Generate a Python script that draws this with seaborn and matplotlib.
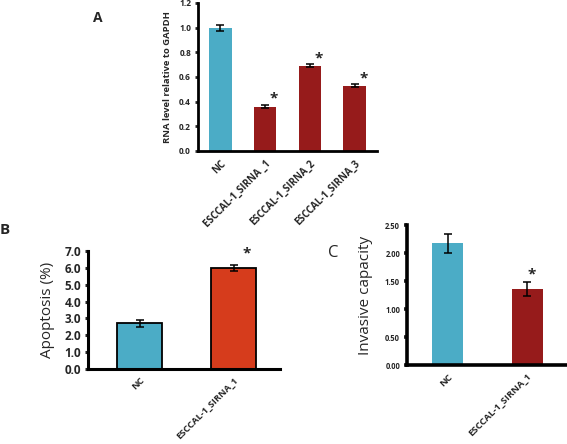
"""
Three-panel bar chart: ESCCAL-1 knockdown, apoptosis and invasion.
"""

import seaborn as sns
import pandas as pd
import matplotlib.pyplot as plt

# Panel A data
a_groups = ['NC', 'ESCCAL-1_SIRNA _1', 'ESCCAL-1_SIRNA_2', 'ESCCAL-1_SIRNA_3']
a_values = [1.0, 0.36, 0.69, 0.53]
a_errors = [0.025, 0.012, 0.012, 0.012]
a_stars = [False, True, True, True]

# Panel B data
b_groups = ['NC', 'ESCCAL-1_SIRNA_1']
b_values = [2.7, 6.0]
b_errors = [0.18, 0.18]
b_stars = [False, True]

# Panel C data
c_groups = ['NC', 'ESCCAL-1_SIRNA_1']
c_values = [2.17, 1.36]
c_errors = [0.17, 0.13]
c_stars = [False, True]

BLUE = '#4bacc6'
DARK_RED = '#961b1b'
ORANGE_RED = '#d63c1c'

sns.set_style('white')
plt.rcParams['font.family'] = ['Open Sans', 'DejaVu Sans']

fig = plt.figure(figsize=(5.67, 4.44), dpi=100)
W, H = 567, 444


def px_axes(left, top, right, bottom):
    """Axes placed from pixel coordinates of the reference image."""
    return fig.add_axes([left / W, 1 - bottom / H, (right - left) / W, (bottom - top) / H])


def panel(ax, groups, values, errors, stars, colors, edge, width, ylim, yticks,
          fmt, tick_size, xtick_size, ylabel, ylabel_size, ylabel_weight, ylabel_pad,
          spine_w, star_dx, star_dy, star_size):
    df = pd.DataFrame({'group': groups, 'value': values})
    sns.barplot(data=df, x='group', y='value', hue='group', palette=colors,
                legend=False, width=width, edgecolor=edge, saturation=1,
                linewidth=1.3 if edge != 'none' else 0, ax=ax)
    ax.errorbar(range(len(values)), values, yerr=errors, fmt='none',
                ecolor='black', elinewidth=1.1, capsize=3, capthick=1.1)
    for i, (v, e, s) in enumerate(zip(values, errors, stars)):
        if s:
            ax.text(i + star_dx, v + e + star_dy, '*', ha='center', va='center',
                    fontsize=star_size, fontweight='bold')
    ax.set_ylim(*ylim)
    ax.set_yticks(yticks)
    ax.set_yticklabels([fmt.format(t) for t in yticks], fontsize=tick_size,
                       fontweight='bold')
    ax.set_xticks(range(len(groups)))
    ax.set_xticklabels(groups, rotation=45, ha='right', rotation_mode='anchor',
                       fontsize=xtick_size, fontweight='bold')
    ax.set_xlabel('')
    ax.set_ylabel(ylabel, fontsize=ylabel_size, fontweight=ylabel_weight,
                  labelpad=ylabel_pad)
    sns.despine(ax=ax)
    for side in ['left', 'bottom']:
        ax.spines[side].set_linewidth(spine_w)
        ax.spines[side].set_color('black')
    ax.tick_params(axis='y', direction='out', length=2, width=spine_w, pad=3, left=True)
    ax.tick_params(axis='x', length=0, pad=5)


# Panel A
ax_a = px_axes(198, 3, 377, 151)
panel(ax_a, a_groups, a_values, a_errors, a_stars,
      [BLUE, DARK_RED, DARK_RED, DARK_RED], 'none', 0.5, (0, 1.2),
      [0.0, 0.2, 0.4, 0.6, 0.8, 1.0, 1.2], '{:.1f}', 6, 7,
      'RNA level relative to GAPDH', 6.8, 'bold', 5, 2.0, 0.2, 0.05, 11)
ax_a.set_xlim(-0.5, 3.5)

# Panel B
ax_b = px_axes(88, 251, 280, 369)
panel(ax_b, b_groups, b_values, b_errors, b_stars,
      [BLUE, ORANGE_RED], 'black', 0.48, (0, 7.0),
      [0.0, 1.0, 2.0, 3.0, 4.0, 5.0, 6.0, 7.0], '{:.1f}', 8.5, 6.7,
      'Apoptosis (%)', 11, 'normal', 7, 2.2, 0.14, 0.7, 11)
ax_b.set_xlim(-0.55, 1.49)

# Panel C
ax_c = px_axes(407, 225, 567, 365)
panel(ax_c, c_groups, c_values, c_errors, c_stars,
      [BLUE, DARK_RED], 'none', 0.39, (0, 2.5),
      [0.0, 0.5, 1.0, 1.5, 2.0, 2.5], '{:.2f}', 5.5, 6.8,
      'Invasive capacity', 11, 'normal', 9, 2.6, 0.06, 0.12, 11)
ax_c.set_xlim(-0.51, 1.5)

# Panel letters
fig.text(98 / W, 1 - 18 / H, 'A', fontsize=10, fontweight='bold', ha='center', va='center')
fig.text(5 / W, 1 - 230 / H, 'B', fontsize=11, fontweight='bold', ha='center', va='center')
fig.text(333 / W, 1 - 253 / H, 'C', fontsize=12, ha='center', va='center')

fig.savefig('out.png', dpi=100)
